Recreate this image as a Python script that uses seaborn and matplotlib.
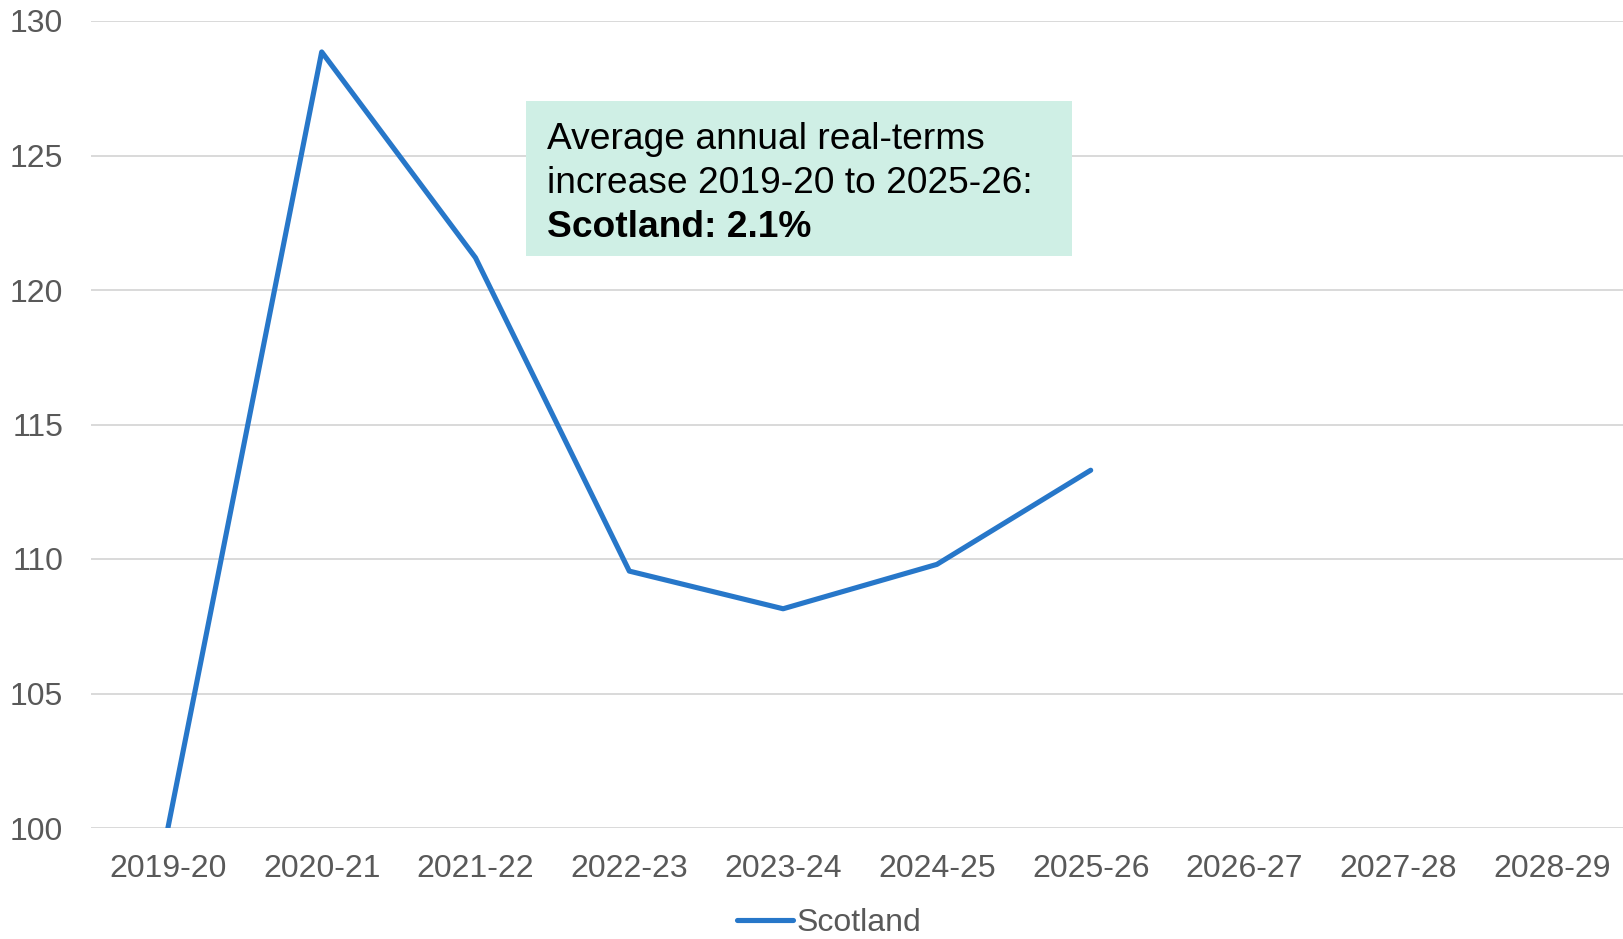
import numpy as np
import pandas as pd
import matplotlib
matplotlib.use("Agg")
import matplotlib.pyplot as plt
import seaborn as sns
from matplotlib.patches import Rectangle

years = ["2019-20", "2020-21", "2021-22", "2022-23", "2023-24",
         "2024-25", "2025-26", "2026-27", "2027-28", "2028-29"]
scotland = [100.0, 128.85, 121.2, 109.55, 108.15, 109.8, 113.3]
series_name = "Scotland"
yticks = [100, 105, 110, 115, 120, 125, 130]
note_lines = ["Average annual real-terms", "increase 2019-20 to 2025-26:"]
note_bold = "Scotland: 2.1%"

sns.set_theme(style="white")
plt.rcParams["font.family"] = ["Liberation Sans", "DejaVu Sans"]

W, H = 1623, 939
fig = plt.figure(figsize=(W / 100, H / 100), dpi=100)
ax = fig.add_axes([91 / W, 1 - 828 / H, 1538 / W, (828 - 21) / H])

df = pd.DataFrame({"pos": np.arange(len(scotland)), "value": scotland,
                   "series": series_name})
sns.lineplot(data=df, x="pos", y="value", ax=ax, color="#2777C9",
             linewidth=3.7, label=series_name, solid_capstyle="round",
             solid_joinstyle="round")

ax.set_xlim(-0.5, len(years) - 0.5)
ax.set_ylim(100, 130)
ax.set_xticks(np.arange(len(years)), years)
ax.set_yticks(yticks)
ax.set_xlabel("")
ax.set_ylabel("")
for s in ax.spines.values():
    s.set_visible(False)
ax.yaxis.grid(True, color="#D9D9D9", linewidth=1.4)
ax.xaxis.grid(False)
ax.set_axisbelow(True)
ax.tick_params(axis="both", length=0, labelsize=23, labelcolor="#595959")
ax.tick_params(axis="y", pad=20)
ax.tick_params(axis="x", pad=19)

ax.legend_.remove()
leg = fig.legend(loc="center", bbox_to_anchor=(829 / W, 1 - 923 / H),
                 frameon=False, fontsize=23, handlelength=1.75,
                 handletextpad=0.12, borderpad=0, borderaxespad=0)
for t in leg.get_texts():
    t.set_color("#595959")

fig.patches.append(Rectangle((526 / W, 1 - 256 / H), 546 / W, 155 / H,
                             transform=fig.transFigure, facecolor="#CFEFE5",
                             edgecolor="none", zorder=5))
bases = [149, 193, 237]
for txt, b in zip(note_lines, bases[:2]):
    fig.text(547 / W, 1 - b / H, txt, fontsize=26.7, color="black",
             va="baseline", ha="left", zorder=6)
fig.text(547 / W, 1 - bases[2] / H, note_bold, fontsize=26.7, color="black",
         fontweight="bold", va="baseline", ha="left", zorder=6)

fig.savefig("out.png", dpi=100)
